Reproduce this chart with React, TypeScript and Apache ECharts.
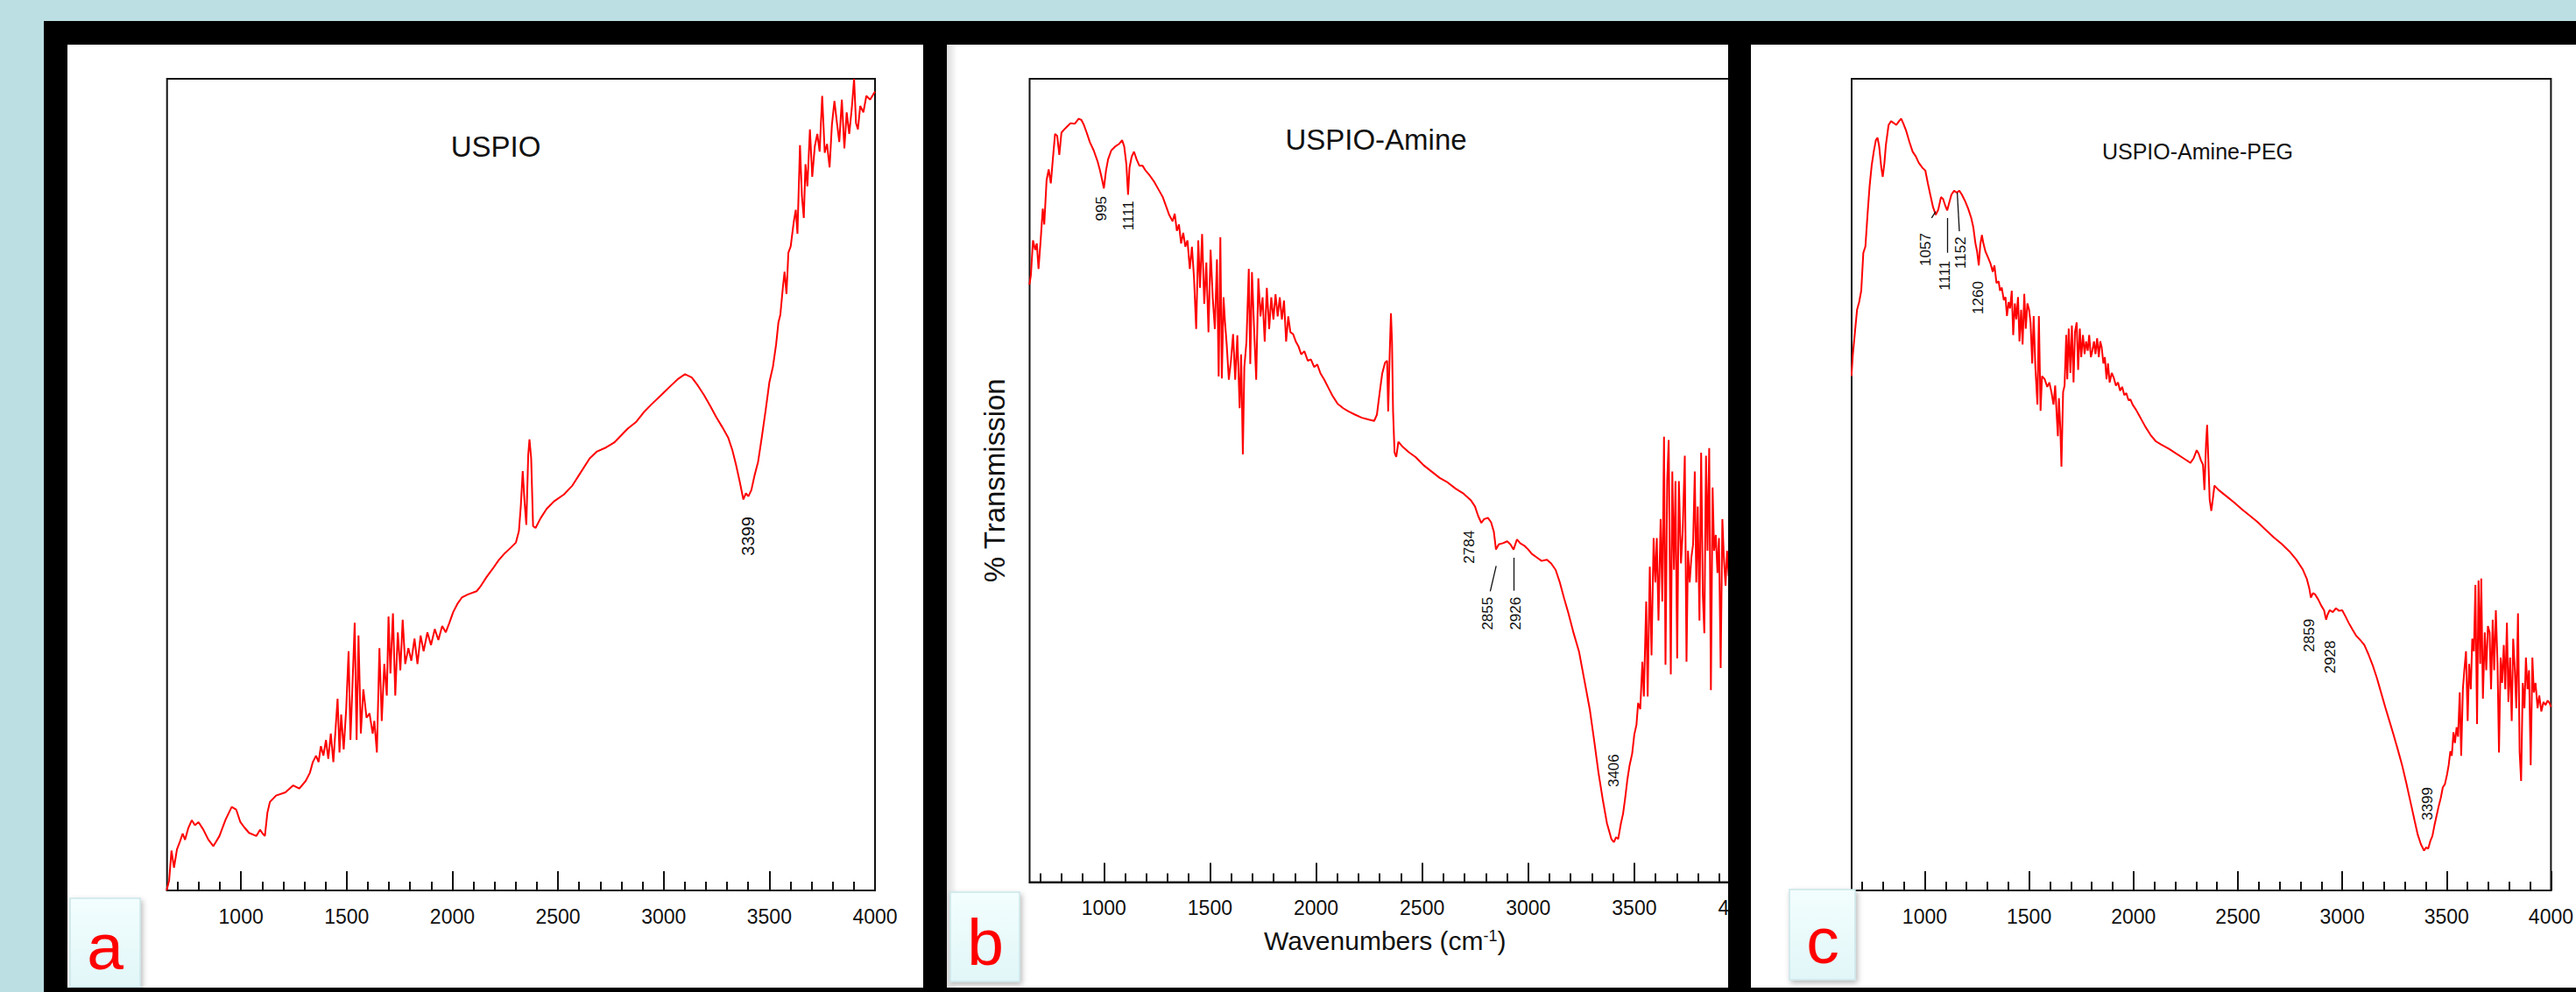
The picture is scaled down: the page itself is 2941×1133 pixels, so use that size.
import React, { useEffect, useRef } from "react";
import * as echarts from "echarts";

const FONT = '"Liberation Sans", Arial, Helvetica, sans-serif';

// ---------- axis ----------
const WN_MIN = 650;
const WN_MAX = 4000;
const majorTickValues = [1000, 1500, 2000, 2500, 3000, 3500, 4000];
const minorTickValues = [700, 800, 900, 1100, 1200, 1300, 1400, 1600, 1700, 1800, 1900, 2100, 2200, 2300, 2400, 2600, 2700, 2800, 2900, 3100, 3200, 3300, 3400, 3600, 3700, 3800, 3900];

// ---------- texts ----------
const panelTitles = ["USPIO", "USPIO-Amine", "USPIO-Amine-PEG"];
const panelLetters = ["a", "b", "c"];
const yAxisTitle = "% Transmission";
const xAxisTitle = "Wavenumbers (cm{sup|-1})";

// ---------- (a) USPIO ----------
const uspioWn = [648,660,671,683,697,712,724,735,750,767,782,799,822,846,869,898,927,956,977,997,1015,1038,1073,1090,1102,1113,1125,1137,1166,1210,1247,1276,1306,1326,1340,1355,1367,1378,1390,1402,1413,1425,1437,1448,1457,1466,1474,1486,1498,1509,1518,1530,1538,1547,1556,1567,1579,1594,1608,1623,1631,1643,1655,1666,1678,1690,1698,1707,1719,1730,1742,1754,1765,1777,1792,1806,1821,1835,1850,1864,1882,1899,1917,1934,1952,1969,1986,2004,2024,2045,2074,2115,2132,2161,2190,2219,2248,2277,2301,2315,2324,2333,2341,2350,2359,2365,2373,2382,2394,2417,2446,2481,2528,2568,2606,2650,2685,2726,2766,2801,2830,2868,2906,2941,2985,3028,3066,3101,3133,3162,3191,3220,3249,3278,3305,3325,3343,3360,3377,3389,3401,3415,3430,3447,3465,3482,3500,3517,3532,3543,3552,3564,3572,3581,3590,3601,3616,3625,3633,3645,3654,3663,3671,3680,3692,3703,3715,3727,3738,3750,3762,3773,3785,3796,3808,3820,3831,3843,3855,3866,3878,3890,3901,3910,3919,3930,3945,3959,3977,4000];
const uspioT = [0,1.6,6.3,3.6,6.5,7.8,9.0,8.0,9.8,11.1,10.3,10.8,9.6,8.0,7.0,8.6,11.2,13.2,12.8,10.8,10.0,9.1,8.6,9.6,9.0,8.6,12.3,14.0,15.0,15.5,16.6,16.1,17.3,18.6,20.3,21.3,20.3,22.8,21.3,23.8,20.8,24.8,20.3,25.8,30.3,21.8,27.8,22.3,28.8,37.8,23.8,34.8,42.3,23.8,40.3,24.8,31.8,27.3,28.0,24.8,26.8,21.8,38.3,26.8,35.8,30.8,43.3,34.3,43.8,30.8,40.8,34.8,42.8,35.8,38.3,36.3,39.8,35.8,40.3,37.8,40.8,38.8,41.3,39.6,41.8,40.8,42.3,44.0,45.3,46.3,46.8,47.3,48.0,49.5,50.8,52.2,53.3,54.2,55.0,56.8,60.8,66.3,61.8,57.8,68.8,71.3,68.3,57.6,57.3,58.8,60.3,61.5,62.6,64.0,66.0,68.3,69.4,70.0,70.8,72.0,73.0,74.0,75.6,76.8,78.2,79.6,80.8,81.6,81.1,79.8,78.3,76.6,74.8,73.2,71.6,69.6,67.2,64.6,61.8,62.8,62.3,63.3,65.6,67.8,71.8,75.8,80.3,82.8,86.3,89.8,91.0,95.3,97.8,94.3,100.8,101.8,105.8,107.6,103.8,117.8,109.8,106.3,114.8,111.3,120.3,112.8,117.6,119.6,116.8,125.6,116.6,118.0,114.3,121.0,124.8,121.3,118.3,125.0,117.3,123.0,119.6,123.6,128.3,121.3,120.3,124.0,123.0,125.6,125.0,126.3];
const uspioPeaks = [["3399", 3399, 56]];
const uspioLeaders = [];

// ---------- (b) USPIO-Amine ----------
const amineWn = [649,656,666,676,684,692,702,712,719,730,740,750,760,770,780,790,800,813,828,843,863,881,894,906,919,934,952,970,982,992,1000,1010,1020,1035,1053,1071,1086,1096,1106,1114,1121,1131,1142,1154,1167,1182,1197,1217,1238,1258,1278,1293,1308,1324,1334,1344,1354,1364,1374,1384,1394,1405,1415,1425,1435,1445,1453,1463,1473,1483,1493,1503,1513,1523,1533,1541,1549,1556,1564,1571,1579,1589,1599,1609,1619,1629,1640,1647,1655,1662,1672,1683,1690,1698,1708,1718,1728,1738,1748,1758,1768,1779,1789,1799,1809,1819,1829,1839,1849,1859,1869,1879,1892,1905,1918,1930,1945,1961,1976,1991,2006,2021,2039,2057,2077,2102,2128,2153,2183,2216,2249,2274,2287,2300,2312,2325,2335,2340,2347,2353,2358,2363,2370,2378,2388,2406,2436,2469,2507,2545,2583,2620,2658,2696,2729,2749,2764,2779,2792,2810,2825,2838,2848,2861,2881,2901,2916,2931,2947,2962,2982,3000,3017,3038,3063,3088,3108,3129,3149,3169,3189,3214,3240,3265,3290,3311,3331,3351,3371,3392,3404,3414,3424,3437,3447,3457,3467,3477,3490,3500,3510,3518,3528,3538,3545,3556,3563,3573,3581,3591,3599,3606,3614,3624,3632,3640,3647,3655,3662,3672,3679,3687,3694,3702,3710,3720,3728,3738,3746,3753,3761,3769,3777,3785,3792,3799,3807,3815,3823,3830,3838,3845,3853,3861,3869,3876,3884,3892,3899,3907,3915,3922,3930,3937,3945,3955,3980,4000];
const amineT = [94.3,95.8,101.3,99.8,100.8,96.8,101.3,106.3,103.8,110.8,112.5,110.3,114.3,118.1,117.8,114.8,118.3,118.8,119.3,119.8,119.7,120.5,120.3,119.5,118.3,116.8,115.5,113.8,112.3,110.8,109.5,112.3,114.1,115.5,116.1,116.5,117.1,116.1,113.3,108.5,112.8,114.5,115.3,114.1,113.1,113.1,112.3,111.5,110.5,109.3,108.1,106.7,105.3,104.3,105.5,102.8,103.8,100.8,102.5,100.3,101.3,96.8,100.3,95.3,87.3,101.3,93.8,102.3,91.3,97.8,86.8,99.8,92.3,87.3,98.3,79.8,101.8,79.5,92.3,88.3,84.8,79.3,82.3,86.5,79.3,86.3,74.8,83.3,67.5,81.3,85.3,96.8,81.8,96.3,87.3,79.3,95.3,89.3,92.3,85.3,93.8,87.3,92.3,88.8,92.8,89.3,92.3,88.8,91.8,85.3,89.3,86.8,86.5,85.3,84.5,83.3,83.8,82.3,82.5,81.3,81.7,80.3,79.3,78.1,76.8,75.5,74.8,74.3,73.8,73.3,73.0,72.8,73.8,77.3,80.3,82.0,82.3,74.3,83.3,89.8,85.3,74.3,67.8,67.1,69.5,68.8,67.9,67.1,65.8,64.8,63.8,63.1,62.1,61.3,60.3,59.3,57.8,56.7,57.3,57.5,56.8,55.3,52.5,53.3,53.5,53.8,53.3,52.5,54.1,53.5,53.1,52.5,51.8,51.3,50.7,50.9,50.3,49.3,47.3,44.8,42.5,39.3,36.3,31.8,27.3,22.3,17.3,13.1,9.3,6.8,6.3,7.1,6.8,9.3,10.8,13.3,16.1,18.3,20.3,23.3,24.8,28.3,27.3,34.8,29.3,44.3,29.3,49.8,35.8,54.3,47.3,54.3,41.3,57.3,44.3,70.3,34.3,63.3,69.8,32.8,64.8,49.3,63.3,35.3,63.3,50.3,55.3,67.3,34.8,52.3,47.3,51.3,53.3,64.8,47.3,59.3,41.3,67.8,45.3,39.3,67.3,52.3,68.5,30.3,62.3,52.3,54.8,48.8,54.3,33.8,57.3,51.3,46.8,52.3,48.3,51.3,49.3,50.3];
const aminePeaks = [["995", 988, 106.3], ["1111", 1116, 105.2], ["2784", 2724, 52.9], ["2855", 2810, 42.4], ["2926", 2943, 42.4], ["3406", 3405, 17.6]];
const amineLeaders = [[[2821, 45.9], [2849, 49.9]], [[2933, 46.0], [2933, 51.2]]];

// ---------- (c) USPIO-Amine-PEG ----------
const pegWn = [649,656,666,676,686,696,706,716,726,736,746,756,766,774,782,792,799,807,814,827,839,852,864,877,887,897,912,927,942,958,972,990,1003,1015,1028,1040,1053,1065,1078,1088,1098,1108,1118,1128,1141,1153,1166,1178,1193,1208,1223,1233,1243,1251,1259,1266,1274,1281,1291,1304,1316,1326,1334,1344,1354,1361,1369,1379,1387,1394,1402,1409,1417,1424,1432,1439,1447,1454,1462,1469,1477,1484,1492,1500,1507,1515,1522,1530,1540,1547,1555,1562,1575,1587,1597,1607,1617,1625,1633,1638,1643,1650,1655,1663,1670,1678,1683,1690,1698,1705,1713,1720,1728,1735,1743,1750,1758,1766,1773,1781,1788,1796,1803,1811,1818,1826,1834,1841,1848,1856,1863,1871,1878,1886,1896,1906,1916,1926,1936,1946,1956,1966,1976,1986,1996,2012,2032,2057,2082,2107,2132,2170,2207,2245,2273,2288,2303,2313,2323,2333,2340,2348,2353,2358,2365,2373,2380,2388,2408,2446,2483,2521,2559,2596,2634,2672,2709,2747,2780,2810,2830,2842,2850,2860,2870,2885,2900,2913,2923,2930,2940,2955,2970,2985,3000,3016,3031,3048,3066,3086,3106,3126,3146,3166,3186,3206,3226,3246,3266,3287,3307,3327,3347,3362,3377,3392,3402,3412,3422,3432,3442,3452,3462,3472,3482,3492,3502,3510,3518,3525,3533,3540,3548,3555,3563,3570,3578,3585,3593,3601,3608,3616,3623,3631,3638,3646,3653,3661,3666,3674,3683,3690,3698,3706,3713,3721,3728,3736,3744,3751,3759,3766,3774,3781,3789,3796,3804,3812,3819,3827,3834,3842,3850,3857,3865,3873,3880,3888,3895,3903,3911,3918,3926,3936,3944,3954,3964,3974,3984,3994,4000];
const pegT = [81.3,84.8,88.3,91.8,93.0,94.8,100.8,101.8,106.8,111.3,114.6,116.8,118.6,119.0,117.6,114.3,112.8,115.0,117.8,121.0,121.6,121.3,121.0,121.6,122.0,121.3,120.0,118.3,116.8,116.0,115.0,114.2,113.8,111.8,109.8,108.0,106.8,107.6,109.6,109.3,108.3,107.5,108.8,110.0,110.6,110.3,110.6,110.0,109.0,107.8,106.3,104.8,102.3,101.0,98.8,102.0,103.6,102.3,101.0,100.0,99.0,97.8,98.8,96.0,96.3,94.8,95.3,93.3,93.8,90.8,93.0,92.0,94.8,87.8,92.8,90.3,93.8,86.8,91.8,86.3,94.3,88.8,92.8,91.8,89.8,83.3,90.8,82.8,76.8,90.8,75.8,81.3,80.8,79.6,80.3,78.8,76.8,79.8,74.8,71.8,77.8,72.8,67.0,78.8,79.8,87.8,80.8,88.8,81.8,89.3,80.3,88.3,89.8,82.3,88.8,84.3,87.8,84.8,86.8,85.3,87.8,84.3,85.3,86.8,84.8,87.3,84.3,86.8,85.8,83.3,84.3,80.8,83.3,80.3,81.8,81.0,79.8,80.3,79.0,79.6,78.3,78.6,77.5,77.6,76.8,76.0,74.8,73.3,72.0,71.0,70.5,69.8,69.0,68.2,67.6,68.3,69.6,69.0,68.0,67.3,63.3,70.8,73.6,68.8,61.8,60.0,61.8,64.0,63.3,62.3,61.3,60.2,59.2,58.2,57.0,55.8,54.8,53.6,52.3,50.8,49.3,47.8,46.3,47.0,46.8,46.0,45.0,44.3,42.8,43.6,44.3,44.0,44.6,44.2,44.3,43.3,42.3,41.3,40.3,39.6,38.8,37.3,35.6,33.6,31.3,29.0,26.8,24.6,22.3,19.8,17.0,14.0,11.0,8.8,7.3,6.3,6.8,6.6,7.8,8.6,10.3,11.8,13.3,14.6,16.3,16.8,18.3,19.8,22.0,21.3,25.0,23.3,25.8,24.3,31.3,21.3,31.8,34.8,37.8,26.8,35.8,31.8,39.8,37.8,48.3,26.3,49.0,35.8,49.3,30.3,40.8,34.8,41.8,40.8,31.8,42.8,34.8,44.3,35.8,21.8,36.8,32.8,38.8,31.8,42.3,29.8,36.8,26.8,39.8,34.8,28.8,43.8,21.8,17.3,32.8,28.8,36.8,31.8,34.8,19.8,36.8,31.3,32.8,28.8,30.8,28.3,29.8,29.3,30.0,29.6,29.0];
const pegPeaks = [["1057", 1004, 101.3], ["1111", 1098, 97.2], ["1152", 1172, 100.8], ["1260", 1258, 93.7], ["2859", 2843, 40.3], ["2928", 2941, 36.9], ["3399", 3407, 13.7]];
const pegLeaders = [[[1033, 106.3], [1053, 107.3]], [[1110, 100.8], [1110, 106.3]], [[1166, 104.2], [1156, 110.3]]];

// ---------- layout (pixels) ----------
const GRIDS = [
  { left: 190.7, top: 90, width: 808.3, height: 927 },
  { left: 1175.5, top: 90, width: 811.5, height: 917.5 },
  { left: 2114, top: 90, width: 818.6, height: 927 },
];
const Y_MAX = [128.3, 126.8, 128.3];
const TITLE_STYLE = [
  { x: 561, y: 146, size: 33 },
  { x: 1566, y: 138, size: 33 },
  { x: 2504, y: 155, size: 25 },
];
const PEAK_FONT = [20, 17, 17];
const LETTER_BOX = [
  { x: 80, y: 1026, w: 80, h: 101, tx: 120, ty: 1081 },
  { x: 1085, y: 1019, w: 79, h: 102, tx: 1125, ty: 1076 },
  { x: 2043, y: 1016, w: 75, h: 103, tx: 2081, ty: 1074 },
];

function zip(a: number[], b: number[]) {
  const n = Math.min(a.length, b.length);
  const out: number[][] = [];
  for (let i = 0; i < n; i++) out.push([a[i], b[i]]);
  return out;
}

function buildOption() {
  const spectra = [
    { wn: uspioWn, t: uspioT, peaks: uspioPeaks, leaders: uspioLeaders },
    { wn: amineWn, t: amineT, peaks: aminePeaks, leaders: amineLeaders },
    { wn: pegWn, t: pegT, peaks: pegPeaks, leaders: pegLeaders },
  ];

  const xAxis: any[] = [];
  const yAxis: any[] = [];
  GRIDS.forEach((_, i) => {
    xAxis.push({
      type: "value",
      gridIndex: i,
      min: WN_MIN,
      max: WN_MAX,
      position: "bottom",
      axisLine: { show: true, onZero: false, lineStyle: { color: "#111", width: 2 } },
      axisTick: { show: true, inside: true, length: 22, customValues: majorTickValues, lineStyle: { color: "#111", width: 2 } },
      axisLabel: {
        show: true,
        customValues: majorTickValues,
        formatter: (v: number) => String(v),
        margin: 18,
        fontSize: 23,
        color: "#111",
        fontFamily: FONT,
      },
      splitLine: { show: false },
      name: i === 1 ? xAxisTitle : "",
      nameLocation: "middle",
      nameGap: 52,
      nameTextStyle: {
        fontSize: 30,
        color: "#111",
        fontFamily: FONT,
        rich: { sup: { fontSize: 18, color: "#111", fontFamily: FONT, verticalAlign: "top" } },
      },
    });
    xAxis.push({
      type: "value",
      gridIndex: i,
      min: WN_MIN,
      max: WN_MAX,
      position: "bottom",
      axisLine: { show: false },
      axisTick: { show: true, inside: true, length: 10, customValues: minorTickValues, lineStyle: { color: "#111", width: 2 } },
      axisLabel: { show: false },
      splitLine: { show: false },
    });
    yAxis.push({
      type: "value",
      gridIndex: i,
      min: 0,
      max: Y_MAX[i],
      show: i === 1,
      axisLine: { show: false },
      axisTick: { show: false },
      axisLabel: { show: false },
      splitLine: { show: false },
      name: i === 1 ? yAxisTitle : "",
      nameLocation: "middle",
      nameRotate: 90,
      nameGap: 24,
      nameTextStyle: { fontSize: 33, color: "#111", fontFamily: FONT },
    });
  });

  const series = spectra.map((s, i) => ({
    type: "line",
    xAxisIndex: i * 2,
    yAxisIndex: i,
    data: zip(s.wn, s.t),
    showSymbol: false,
    symbol: "none",
    lineStyle: { color: "#ff0000", width: 2 },
    itemStyle: { color: "#ff0000" },
    z: 3,
    markPoint: {
      silent: true,
      symbol: "circle",
      symbolSize: 0,
      itemStyle: { color: "rgba(0,0,0,0)" },
      label: {
        show: true,
        position: "inside",
        rotate: 90,
        formatter: (p: any) => p.name,
        fontSize: PEAK_FONT[i],
        color: "#111",
        fontFamily: FONT,
      },
      data: s.peaks.map((p: any) => ({ name: p[0], coord: [p[1], p[2]] })),
    },
    markLine: {
      silent: true,
      symbol: ["none", "none"],
      label: { show: false },
      lineStyle: { color: "#111", width: 1.3, type: "solid" },
      data: s.leaders.map((l: any) => [{ coord: l[0] }, { coord: l[1] }]),
    },
  }));

  const title = panelTitles.map((t, i) => ({
    text: t,
    left: TITLE_STYLE[i].x,
    top: TITLE_STYLE[i].y,
    textAlign: "center",
    textStyle: { fontSize: TITLE_STYLE[i].size, fontWeight: "normal", color: "#111", fontFamily: FONT },
  }));

  const boxFill = new echarts.graphic.LinearGradient(0, 0, 0, 1, [
    { offset: 0, color: "#F3FEFE" },
    { offset: 1, color: "#E1F6F8" },
  ]);
  const shadowFill = new echarts.graphic.LinearGradient(0, 0, 1, 0, [
    { offset: 0, color: "rgba(0,0,0,0.14)" },
    { offset: 1, color: "rgba(0,0,0,0)" },
  ]);

  const elements: any[] = [
    { type: "rect", z: -20, shape: { x: 50, y: 24, width: 2891, height: 1109 }, style: { fill: "#000" } },
    { type: "rect", z: -10, shape: { x: 77, y: 51, width: 977, height: 1077 }, style: { fill: "#fff" } },
    { type: "rect", z: -10, shape: { x: 1081, y: 51, width: 892, height: 1077 }, style: { fill: "#fff" } },
    { type: "rect", z: -10, shape: { x: 1999, y: 51, width: 942, height: 1077 }, style: { fill: "#fff" } },
    { type: "rect", z: -9, shape: { x: 1081, y: 51, width: 12, height: 1077 }, style: { fill: shadowFill } },
    // separator between b and c, drawn over panel b's plot
    { type: "rect", z: 100, shape: { x: 1973, y: 24, width: 26, height: 1109 }, style: { fill: "#000" } },
    { type: "rect", z: 100, shape: { x: 1999, y: 1020, width: 38, height: 42 }, style: { fill: "#fff" } },
  ];
  LETTER_BOX.forEach((b, i) => {
    elements.push({
      type: "rect",
      z: 110,
      shape: { x: b.x, y: b.y, width: b.w, height: b.h },
      style: {
        fill: boxFill,
        stroke: "#CBE6E9",
        lineWidth: 1.5,
        shadowBlur: 6,
        shadowColor: "rgba(0,0,0,0.28)",
        shadowOffsetX: 2,
        shadowOffsetY: 3,
      },
    });
    elements.push({
      type: "text",
      z: 111,
      x: b.tx,
      y: b.ty,
      style: {
        text: panelLetters[i],
        fill: "#ff0000",
        fontSize: 75,
        fontFamily: FONT,
        align: "center",
        verticalAlign: "middle",
        textAlign: "center",
        textVerticalAlign: "middle",
      },
    });
  });

  return {
    animation: false,
    backgroundColor: "#BBDFE2",
    textStyle: { fontFamily: FONT },
    title,
    grid: GRIDS.map((g) => ({
      ...g,
      show: true,
      borderColor: "#111",
      borderWidth: 2,
      backgroundColor: "rgba(0,0,0,0)",
      containLabel: false,
    })),
    xAxis,
    yAxis,
    series,
    graphic: { elements },
  };
}

export default function App() {
  const ref = useRef<HTMLDivElement>(null);
  useEffect(() => {
    if (!ref.current) return;
    const chart = echarts.init(ref.current, undefined, { renderer: "svg" });
    chart.setOption(buildOption() as any);
    return () => chart.dispose();
  }, []);
  return (
    <div
      ref={ref}
      style={{ position: "fixed", left: 0, top: 0, width: 2941, height: 1133 }}
    />
  );
}
